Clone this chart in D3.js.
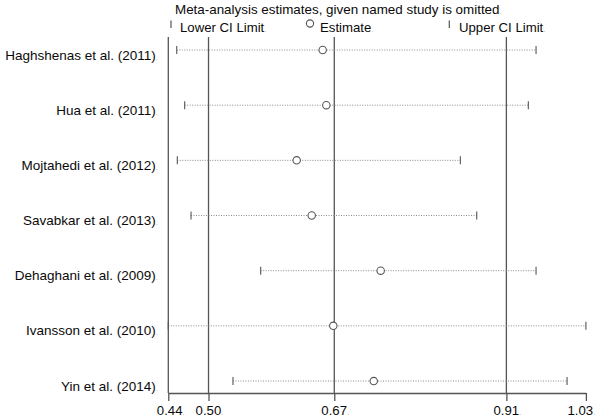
<!DOCTYPE html>
<html>
<head>
<meta charset="utf-8">
<script src="https://cdn.jsdelivr.net/npm/d3@7"></script>
<style>
  body { margin: 0; background: #fff; }
  svg { display: block; font-family: Arial, "Liberation Sans", sans-serif; }
</style>
</head>
<body>
<svg id="chart" width="600" height="419"></svg>
<script>
// ---- data ----
const studies = [
  "Haghshenas et al. (2011)",
  "Hua et al. (2011)",
  "Mojtahedi et al. (2012)",
  "Savabkar et al. (2013)",
  "Dehaghani et al. (2009)",
  "Ivansson et al. (2010)",
  "Yin et al. (2014)"
];
const estimates = [0.6550, 0.6602, 0.6180, 0.6394, 0.7375, 0.6701, 0.7276];
const lowerCI   = [0.4474, 0.4587, 0.4482, 0.4677, 0.5668, 0.4354, 0.5274];
const upperCI   = [0.9585, 0.9475, 0.8508, 0.8741, 0.9585, 1.0294, 1.0026];
// overall (all studies): lower CI, estimate, upper CI
const overall = [0.4926, 0.6715, 0.9163];
const tickLabels = ["0.44", "0.50", "0.67", "0.91", "1.03"];
const titleText = "Meta-analysis estimates, given named study is omitted";
const legendLabels = ["Lower CI Limit", "Estimate", "Upper CI Limit"];

// ---- layout ----
const svg = d3.select("#chart");
const plotLeft = 168.3, plotRight = 585.9, plotTop = 37, plotBottom = 393;
const lineCol = "#555";
const textCol = "#0a0a0a";
const xMin = d3.min(lowerCI), xMax = d3.max(upperCI);
const tickValues = [xMin, overall[0], overall[1], overall[2], xMax];
const tickShift = [2, 0.5, 0.5, 0.5, -5];

const x = d3.scaleLinear().domain([xMin, xMax]).range([plotLeft, plotRight]);
const y = d3.scaleLinear().domain([0.764, 7.217]).range([plotTop, plotBottom]);

function artifact(sel) {
  sel.append("tspan").attr("font-size", 8).attr("fill", "#aaa").text(".");
}

// title
const t = svg.append("text").attr("x", 175).attr("y", 13.5)
  .attr("font-size", 13.4).attr("fill", textCol).text(titleText);
artifact(t);

// legend
const legY = 32;
svg.append("line").attr("x1", 171).attr("x2", 171).attr("y1", 20.5).attr("y2", 28)
  .attr("stroke", lineCol).attr("stroke-width", 1.2);
svg.append("circle").attr("cx", 310).attr("cy", 23.5).attr("r", 3.6)
  .attr("fill", "none").attr("stroke", lineCol).attr("stroke-width", 1.1);
svg.append("line").attr("x1", 449.3).attr("x2", 449.3).attr("y1", 20.5).attr("y2", 28)
  .attr("stroke", lineCol).attr("stroke-width", 1.2);
[[180, legendLabels[0]], [320, legendLabels[1]], [459, legendLabels[2]]].forEach(([lx, txt]) => {
  const el = svg.append("text").attr("x", lx).attr("y", legY)
    .attr("font-size", 13.2).attr("fill", textCol).text(txt);
  artifact(el);
});

// vertical reference lines (overall lower, estimate, upper) and y axis line
svg.append("line").attr("x1", x(xMin)).attr("x2", x(xMin)).attr("y1", plotTop).attr("y2", plotBottom)
  .attr("stroke", lineCol).attr("stroke-width", 1.3);
overall.forEach(v => {
  svg.append("line").attr("x1", x(v)).attr("x2", x(v)).attr("y1", plotTop).attr("y2", plotBottom)
    .attr("stroke", lineCol).attr("stroke-width", 1.3);
});

// x axis
const ax = svg.append("g").attr("transform", `translate(0,${plotBottom})`)
  .call(d3.axisBottom(x).tickValues(tickValues)
    .tickFormat((d, i) => tickLabels[i]).tickSize(8).tickSizeOuter(0));
ax.select(".domain").attr("stroke", lineCol).attr("stroke-width", 1.3);
ax.selectAll(".tick line").attr("stroke", lineCol).attr("stroke-width", 1.3);
ax.selectAll(".tick text").attr("font-size", 13.2).attr("fill", textCol)
  .attr("font-family", "Arial, 'Liberation Sans', sans-serif")
  .attr("y", 13).attr("dy", "0.71em")
  .attr("dx", (d, i) => tickShift[i])
  .each(function() { artifact(d3.select(this)); });

// rows
studies.forEach((s, i) => {
  const yy = y(i + 1);
  // dotted CI line
  svg.append("line").attr("x1", x(lowerCI[i])).attr("x2", x(upperCI[i]))
    .attr("y1", yy).attr("y2", yy)
    .attr("stroke", "#8a8a8a").attr("stroke-width", 1).attr("stroke-dasharray", "1,1.5");
  // caps
  [lowerCI[i], upperCI[i]].forEach(v => {
    svg.append("line").attr("x1", x(v)).attr("x2", x(v)).attr("y1", yy - 4).attr("y2", yy + 4)
      .attr("stroke", lineCol).attr("stroke-width", 1.1);
  });
  // estimate
  svg.append("circle").attr("cx", x(estimates[i])).attr("cy", yy).attr("r", 3.7)
    .attr("fill", "#fff").attr("stroke", lineCol).attr("stroke-width", 1.1);
  // label
  const lab = svg.append("text").attr("x", 158).attr("y", yy + 9.5)
    .attr("text-anchor", "end").attr("font-size", 13.5).attr("fill", textCol).text(s);
  artifact(lab);
});
</script>
</body>
</html>
